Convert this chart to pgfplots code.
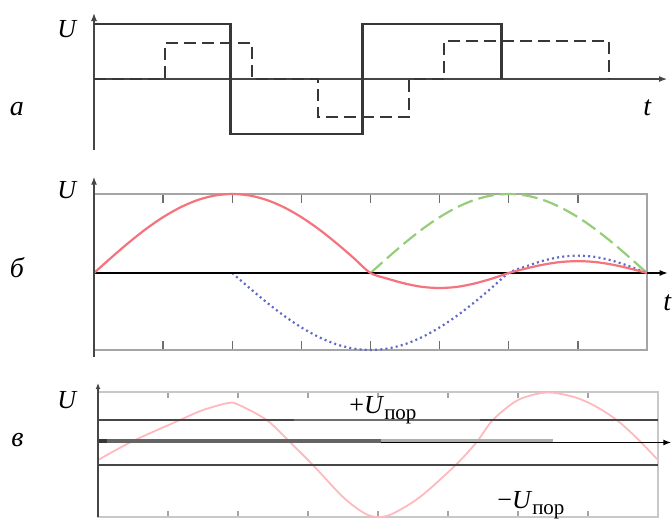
\documentclass[border=0pt]{standalone}
\usepackage{fontspec}
\setmainfont{Liberation Serif}
\usepackage{pgfplots}
\pgfplotsset{compat=1.18}
\usetikzlibrary{arrows.meta}
\definecolor{darkline}{RGB}{55,55,55}
\definecolor{axisgray}{RGB}{70,70,70}
\definecolor{framegray}{RGB}{165,165,165}
\definecolor{lightframe}{RGB}{200,200,200}
\definecolor{tickgray}{RGB}{110,110,110}
\definecolor{redc}{RGB}{245,115,125}
\definecolor{greenc}{RGB}{150,205,120}
\definecolor{bluec}{RGB}{95,105,200}
\definecolor{pinkc}{RGB}{255,185,190}
\definecolor{thickgray}{RGB}{100,100,100}
\definecolor{lightthick}{RGB}{175,175,175}
\tikzset{arr/.style={-{Latex[length=4pt,width=3pt]}}}
\newcommand{\lab}{\fontsize{13}{15}\selectfont}
\newcommand{\biglab}{\fontsize{14}{16}\selectfont}
\newcommand{\por}{\raisebox{-3pt}{\fontsize{10.5}{12}\selectfont пор}}
\begin{document}
\begin{tikzpicture}
% ---------------- panel a ----------------
\begin{axis}[at={(47pt,-75pt)}, anchor=south west, scale only axis,
  width=286.5pt, height=68.5pt,
  xmin=0, xmax=8.29, ymin=-1.29, ymax=1.2,
  axis lines=middle,
  axis line style={draw=axisgray, line width=0.6pt, arr},
  xtick=\empty, ytick=\empty, clip=false]
\addplot[const plot, draw=darkline, line width=1.4pt] coordinates
  {(0,1) (1.98,-1) (3.88,1) (5.90,0)};
\addplot[const plot, draw=darkline, line width=1pt, dash pattern=on 6pt off 3pt] coordinates
  {(0,0) (1.03,0.655) (2.29,0) (3.24,-0.69) (4.56,0) (5.07,0.69) (7.45,0)};
\end{axis}
% ---------------- panel b ----------------
\begin{axis}[at={(47pt,-175pt)}, anchor=south west, scale only axis,
  width=276.5pt, height=78pt,
  xmin=0, xmax=8, ymin=-0.975, ymax=1,
  axis line style={draw=framegray, line width=0.7pt},
  xtick={1,...,8}, xticklabel=\empty, ytick=\empty,
  tick align=inside, xtick pos=both, major tick length=4.5pt,
  tick style={draw=tickgray, line width=0.7pt}, clip=false]
\addplot[draw=greenc, line width=1.1pt, dash pattern=on 8pt off 3pt] coordinates
  {(0,0) (4,0)};
\addplot[draw=greenc, line width=1.1pt, dash pattern=on 8pt off 3pt, smooth] coordinates
  {(4,0) (4.25,0.195) (4.5,0.383) (4.75,0.556) (5,0.707) (5.25,0.831) (5.5,0.924) (5.75,0.981) (6,1)
   (6.25,0.981) (6.5,0.924) (6.75,0.831) (7,0.707) (7.25,0.556) (7.5,0.383) (7.75,0.195) (8,0)};
\addplot[draw=bluec, line width=1.1pt, dash pattern=on 1pt off 1.6pt] coordinates
  {(0,0) (2,0)};
\addplot[draw=bluec, line width=1.1pt, dash pattern=on 1pt off 1.6pt, smooth] coordinates
  {(2,0) (2.25,-0.19) (2.5,-0.373) (2.75,-0.542) (3,-0.689) (3.25,-0.81) (3.5,-0.901) (3.75,-0.956) (4,-0.975)
   (4.25,-0.956) (4.5,-0.901) (4.75,-0.81) (5,-0.689) (5.25,-0.542) (5.5,-0.373) (5.75,-0.19) (6,0)
   (6.25,0.084) (6.5,0.156) (6.75,0.203) (7,0.22) (7.25,0.203) (7.5,0.156) (7.75,0.084) (8,0)};
\draw[black, line width=0.7pt, arr] (axis cs:0,0) -- (axis cs:8.3,0);
\addplot[draw=redc, line width=1.1pt, smooth] coordinates
  {(0,0) (0.25,0.195) (0.5,0.383) (0.75,0.556) (1,0.707) (1.25,0.831) (1.5,0.924) (1.75,0.981) (2,1)
   (2.25,0.981) (2.5,0.924) (2.75,0.831) (3,0.707) (3.25,0.556) (3.5,0.383) (3.75,0.195) (4,0)
   (4.25,-0.073) (4.5,-0.134) (4.75,-0.176) (5,-0.19) (5.25,-0.176) (5.5,-0.134) (5.75,-0.073) (6,0)
   (6.25,0.057) (6.5,0.106) (6.75,0.139) (7,0.15) (7.25,0.139) (7.5,0.106) (7.75,0.057) (8,0)};
\draw[axisgray, line width=0.8pt, arr] (axis cs:0,-1.06) -- (axis cs:0,1.22);
\end{axis}
% ---------------- panel c ----------------
\begin{axis}[at={(49pt,-258.5pt)}, anchor=south west, scale only axis,
  width=280pt, height=62.5pt,
  xmin=0, xmax=8, ymin=-3, ymax=2,
  axis line style={draw=lightframe, line width=0.8pt},
  xtick={1,...,7}, xticklabel=\empty, ytick=\empty,
  tick align=inside, xtick pos=both, major tick length=3pt,
  tick style={draw=framegray, line width=0.6pt}, clip=false]
\addplot[draw=pinkc, line width=0.9pt, smooth, tension=0.5] coordinates
  {(0,-0.72) (0.5,0.04) (1.17,0.88) (1.5,1.28) (1.86,1.56) (2.0,1.5) (2.41,0.88) (2.74,0) (3.07,-0.92)
   (3.5,-2.2) (3.8,-2.84) (3.99,-3.0) (4.2,-2.88) (4.6,-2.2) (5.11,-0.92) (5.41,0) (5.64,0.88)
   (6.0,1.68) (6.41,1.98) (6.8,1.8) (7.1,1.44) (7.41,0.88) (7.7,0.15) (8,-0.72)};
\addplot[draw=axisgray, line width=0.8pt] coordinates {(0,0.88) (2.8,0.88)};
\addplot[draw=tickgray, line width=0.6pt] coordinates {(2.8,0.88) (5.46,0.88)};
\addplot[draw=axisgray, line width=0.8pt] coordinates {(5.46,0.88) (8,0.88)};
\addplot[draw=axisgray, line width=0.8pt] coordinates {(0,-0.92) (8,-0.92)};
\addplot[draw=lightthick, line width=2pt] coordinates {(4.04,0.04) (6.5,0.04)};
\addplot[draw=thickgray, line width=2pt] coordinates {(0,0.04) (4.04,0.04)};
\addplot[draw=darkline, line width=2pt] coordinates {(0,0.04) (0.13,0.04)};
\draw[black, line width=0.7pt, arr] (axis cs:4.04,-0.02) -- (axis cs:8.19,-0.02);
\draw[axisgray, line width=1pt, -{Latex[length=3pt,width=2.5pt]}] (axis cs:0,-3) -- (axis cs:0,2.36);
\end{axis}
% ---------------- labels ----------------
\node[anchor=base west, inner sep=0pt] at (28.5pt,-18.5pt) {\lab\textit{U}};
\node[anchor=base west, inner sep=0pt] at (4.7pt,-57.5pt) {\biglab\textit{а}};
\node[anchor=base west, inner sep=0pt] at (321.5pt,-57.5pt) {\biglab\textit{t}};
\node[anchor=base west, inner sep=0pt] at (28.5pt,-99pt) {\lab\textit{U}};
\node[anchor=base west, inner sep=0pt] at (4.7pt,-138.5pt) {\biglab\textit{б}};
\node[anchor=base west, inner sep=0pt] at (331.5pt,-155pt) {\biglab\textit{t}};
\node[anchor=base west, inner sep=0pt] at (28.5pt,-204pt) {\lab\textit{U}};
\node[anchor=base west, inner sep=0pt] at (5.5pt,-223pt) {\biglab\textit{в}};
\node[anchor=base west, inner sep=0pt] at (174.5pt,-206.5pt) {\lab +\textit{U}\por};
\node[anchor=base west, inner sep=0pt] at (248.5pt,-254pt) {\lab −\textit{U}\por};
\pgfresetboundingbox
\path[use as bounding box] (0,0) rectangle (336pt,-260pt);
\end{tikzpicture}
\end{document}
